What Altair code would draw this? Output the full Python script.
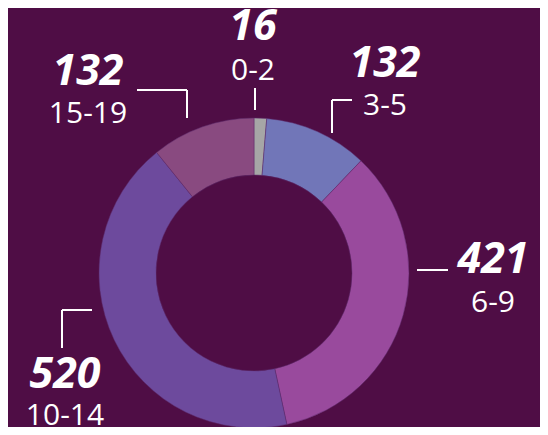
import altair as alt
import pandas as pd

# ---- data ----
categories = ["0-2", "3-5", "6-9", "10-14", "15-19"]
values = [16, 132, 421, 520, 132]
colors = ["#a6a6a6", "#7176b8", "#994a9d", "#6d4a9d", "#894a80"]

# ---- layout (pixel space of the plot, origin top-left) ----
W, H = 532, 419
CENTER = (246, 265)
INNER_R, OUTER_R = 98, 155
BG = "#4f0d45"

# label anchor (center x, value baseline y, category baseline y)
label_pos = {
    "0-2": (245, 32, 72),
    "3-5": (377, 69, 107),
    "6-9": (485, 265, 304),
    "10-14": (57, 380, 417),
    "15-19": (80, 77, 115),
}
# connector segments (x, y, x2, y2)
connectors = [
    (247, 80, 247, 102),
    (324, 92, 324, 125), (324, 92, 344, 92),
    (409, 262, 440, 262),
    (54, 302, 54, 340), (54, 302, 84, 302),
    (129, 82, 179, 82), (179, 82, 179, 110),
]

arc_df = pd.DataFrame({
    "category": categories,
    "value": values,
    "order": list(range(len(categories))),
    "cx": CENTER[0],
    "cy": CENTER[1],
})
lab_df = pd.DataFrame({
    "category": categories,
    "value": [str(v) for v in values],
    "lx": [label_pos[c][0] for c in categories],
    "vy": [label_pos[c][1] for c in categories],
    "cy": [label_pos[c][2] for c in categories],
})
con_df = pd.DataFrame(connectors, columns=["x", "y", "x2", "y2"])

xs = alt.Scale(domain=[0, W], range=[0, W])
ys = alt.Scale(domain=[0, H], range=[0, H])
noax = None

arc = alt.Chart(arc_df).mark_arc(
    innerRadius=INNER_R, outerRadius=OUTER_R, stroke="#5d2a6a", strokeWidth=0.5
).encode(
    x=alt.X("cx:Q", scale=xs, axis=noax),
    y=alt.Y("cy:Q", scale=ys, axis=noax),
    theta=alt.Theta("value:Q", stack=True, scale=alt.Scale(range=[0, 6.283185307179586])),
    order=alt.Order("order:Q"),
    color=alt.Color("category:N", scale=alt.Scale(domain=categories, range=colors), legend=None),
)

val_text = alt.Chart(lab_df).mark_text(
    font="Open Sans", fontSize=43, fontWeight="bold", fontStyle="italic",
    color="white", align="center", baseline="alphabetic",
).encode(
    x=alt.X("lx:Q", scale=xs, axis=noax),
    y=alt.Y("vy:Q", scale=ys, axis=noax),
    text="value:N",
)

cat_text = alt.Chart(lab_df).mark_text(
    font="Open Sans", fontSize=30, color="white", align="center", baseline="alphabetic",
).encode(
    x=alt.X("lx:Q", scale=xs, axis=noax),
    y=alt.Y("cy:Q", scale=ys, axis=noax),
    text="category:N",
)

lines = alt.Chart(con_df).mark_rule(color="white", strokeWidth=2).encode(
    x=alt.X("x:Q", scale=xs, axis=noax),
    y=alt.Y("y:Q", scale=ys, axis=noax),
    x2="x2:Q",
    y2="y2:Q",
)

chart = alt.layer(arc, lines, val_text, cat_text).properties(
    width=W, height=H, background=BG,
    autosize=alt.AutoSizeParams(type="none"), padding=0,
).configure_view(stroke=None)

chart.save("out.html", embed_options={"renderer": "svg", "actions": False})
